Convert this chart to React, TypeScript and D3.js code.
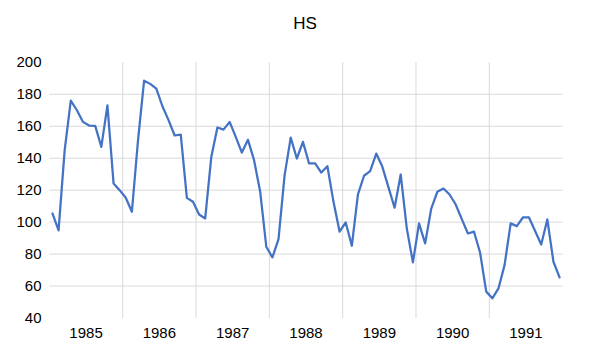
import React from "react";
import * as d3 from "d3";

const years = ["1985", "1986", "1987", "1988", "1989", "1990", "1991"];
const months = ["01", "02", "03", "04", "05", "06", "07", "08", "09", "10", "11", "12"];
const categories = years.flatMap((y) => months.map((m) => `${y}-${m}`));

const hs1985 = [105.4, 94.8, 145.0, 176.0, 170.0, 162.7, 160.4, 160.2, 147.1, 173.1, 124.2, 120.0];
const hs1986 = [115.2, 106.5, 151.0, 188.5, 186.5, 183.5, 172.5, 163.8, 154.2, 154.7, 115.2, 112.7];
const hs1987 = [104.8, 102.3, 140.8, 159.2, 157.9, 162.7, 153.3, 143.5, 151.5, 138.8, 119.0, 84.6];
const hs1988 = [77.9, 89.4, 129.4, 152.9, 139.8, 150.2, 136.7, 136.7, 131.0, 135.0, 112.7, 94.0];
const hs1989 = [99.8, 85.2, 117.3, 129.0, 131.9, 142.9, 134.6, 121.7, 109.0, 129.8, 96.0, 74.8];
const hs1990 = [99.2, 86.7, 108.5, 119.0, 121.0, 117.3, 111.0, 101.9, 92.9, 94.0, 80.8, 56.5];
const hs1991 = [52.3, 58.5, 73.1, 99.2, 97.5, 102.9, 102.9, 94.4, 86.0, 101.7, 75.2, 65.4];
const hsValues = [...hs1985, ...hs1986, ...hs1987, ...hs1988, ...hs1989, ...hs1990, ...hs1991];

const yTicks = [40, 60, 80, 100, 120, 140, 160, 180, 200];
const gridValues = [60, 80, 100, 120, 140, 160, 180];
const title = "HS";

const W = 589;
const H = 359;
const FONT = "'Liberation Sans', Arial, sans-serif";

export default function App() {
  const x = d3.scaleBand<string>().domain(categories).range([49.4, 562.6]).padding(0);
  const y = d3.scaleLinear().domain([40, 200]).range([318, 62.3]);
  const cx = (c: string) => (x(c) as number) + x.bandwidth() / 2;

  const line = d3
    .line<number>()
    .x((_, i) => cx(categories[i]))
    .y((d) => y(d));

  const yearStart = (yr: string) => x(`${yr}-01`) as number;
  const yearCenter = (yr: string) => yearStart(yr) + (x.bandwidth() * 12) / 2;

  return (
    <svg
      width={W}
      height={H}
      style={{ position: "absolute", left: 0, top: 0, background: "#fff" }}
    >
      <rect x={0} y={0} width={W} height={H} fill="#fff" />
      <text x={305} y={29} textAnchor="middle" fontFamily={FONT} fontSize={17} fill="#000">
        {title}
      </text>
      {gridValues.map((v) => (
        <line key={`h${v}`} x1={49.4} x2={562.6} y1={y(v)} y2={y(v)} stroke="#D9D9D9" strokeWidth={1} />
      ))}
      {years.slice(1).map((yr) => (
        <line
          key={`v${yr}`}
          x1={yearStart(yr)}
          x2={yearStart(yr)}
          y1={y(200)}
          y2={y(40)}
          stroke="#D9D9D9"
          strokeWidth={1}
        />
      ))}
      {yTicks.map((v) => (
        <text
          key={`t${v}`}
          x={41.5}
          y={y(v) - 1}
          textAnchor="end"
          dominantBaseline="central"
          fontFamily={FONT}
          fontSize={15}
          fill="#000"
        >
          {v}
        </text>
      ))}
      {years.map((yr) => (
        <text
          key={`x${yr}`}
          x={yearCenter(yr)}
          y={337.5}
          textAnchor="middle"
          fontFamily={FONT}
          fontSize={15}
          fill="#000"
        >
          {yr}
        </text>
      ))}
      <path d={line(hsValues) || ""} fill="none" stroke="#4472C4" strokeWidth={2.25} strokeLinejoin="round" strokeLinecap="round" />
    </svg>
  );
}
